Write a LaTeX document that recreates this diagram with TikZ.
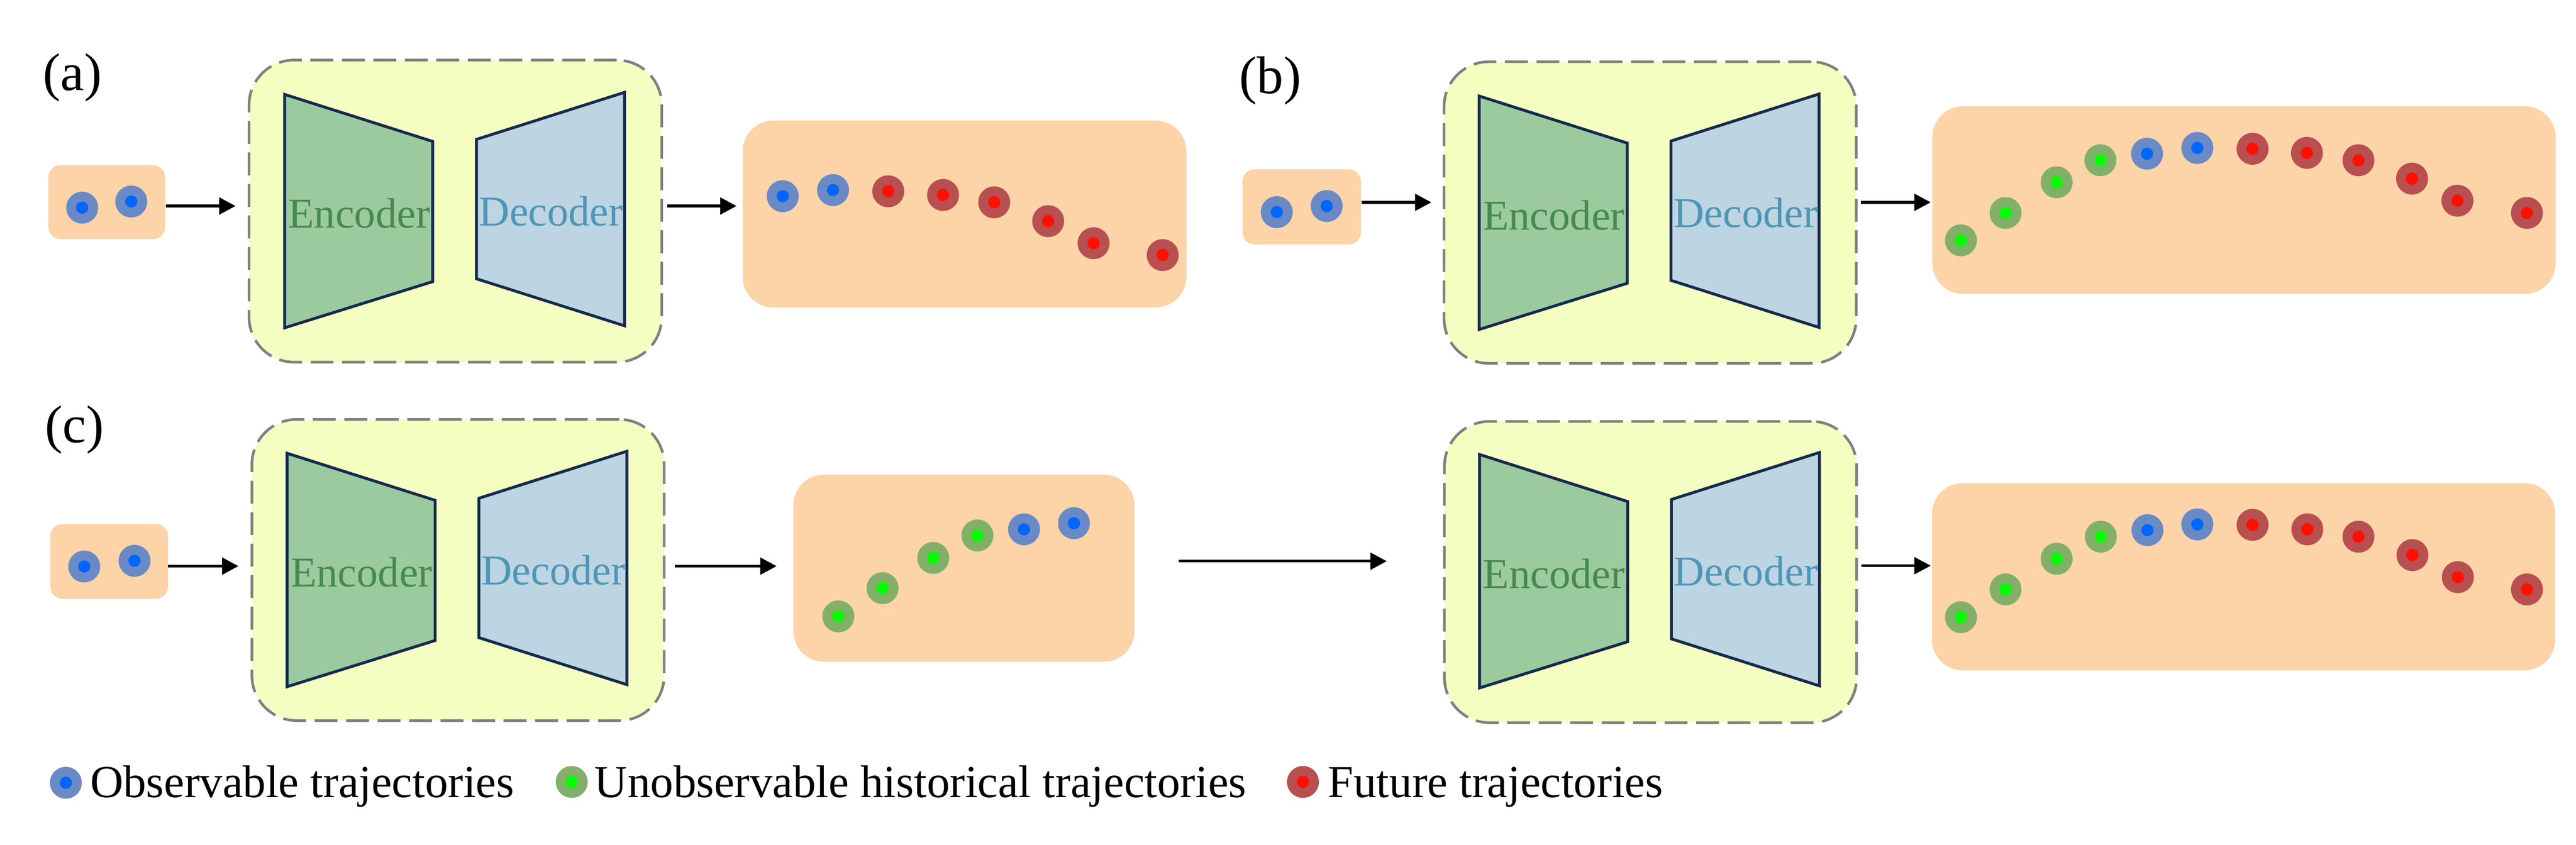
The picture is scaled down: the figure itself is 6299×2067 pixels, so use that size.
\documentclass[tikz,border=0pt]{standalone}
\usepackage{fontspec}
\setmainfont{Liberation Serif}
\usetikzlibrary{arrows.meta,fit}
\definecolor{peach}{HTML}{FDD3A8}
\definecolor{lemon}{HTML}{F4FEC0}
\definecolor{dashgray}{HTML}{808080}
\definecolor{encfill}{HTML}{9CCA9F}
\definecolor{decfill}{HTML}{BDD5E2}
\definecolor{navy}{HTML}{16294E}
\definecolor{enctext}{HTML}{468A50}
\definecolor{dectext}{HTML}{4F96B6}
\definecolor{ringB}{HTML}{6A8AC5}
\definecolor{coreB}{HTML}{0066FF}
\definecolor{ringG}{HTML}{82B06A}
\definecolor{coreG}{HTML}{00FF00}
\definecolor{ringR}{HTML}{B84F50}
\definecolor{coreR}{HTML}{FF1000}
\newcommand{\encdec}[3]{%
  \begin{scope}[shift={(#1,#2)}]
    \filldraw[trap, fill=encfill] (696,231) -- (1058,346) -- (1058,689) -- (696,802) -- cycle;
    \filldraw[trap, fill=decfill] (1165,341) -- (1527,226) -- (1527,797) -- (1165,682) -- cycle;
    \node[enclabel] (enc#3) at (878,558) {Encoder};
    \node[declabel] (dec#3) at (1347,552) {Decoder};
  \end{scope}}
\begin{document}
\begin{tikzpicture}[x=0.1mm,y=-0.1mm,
  inbox/.style={fill=peach, rounded corners=3mm, inner sep=0pt},
  outbox/.style={fill=peach, rounded corners=7.5mm, inner sep=0pt},
  modbox/.style={fill=lemon, draw=dashgray, line width=0.65mm, dash pattern=on 5.6mm off 2.1mm, rounded corners=11mm, inner sep=0pt},
  trap/.style={line width=0.7mm, draw=navy, line join=miter},
  enclabel/.style={anchor=base, inner sep=0pt, text=enctext, font=\fontsize{29.6}{30}\selectfont},
  declabel/.style={anchor=base, inner sep=0pt, text=dectext, font=\fontsize{29.6}{30}\selectfont},
  dotbase/.style={circle, inner sep=0pt, minimum size=7.8mm},
  dB/.style={dotbase, fill=ringB, path picture={\fill[coreB] (path picture bounding box.center) circle (1.5mm);}},
  dG/.style={dotbase, fill=ringG, path picture={\fill[coreG] (path picture bounding box.center) circle (1.5mm);}},
  dR/.style={dotbase, fill=ringR, path picture={\fill[coreR] (path picture bounding box.center) circle (1.5mm);}},
  arr/.style={line width=0.65mm, -{Triangle[length=4mm,width=4.1mm]}},
  panel/.style={inner sep=0pt, font=\fontsize{37}{40}\selectfont},
  legtext/.style={anchor=base west, inner sep=0pt, font=\fontsize{31.9}{34}\selectfont},
]
\useasboundingbox (0,0) rectangle (6299,2067);

% ---------------- (a) ----------------
\node[panel] (labA) at (177,190) {(a)};
\node[inbox, fit={(118,404) (404,585)}] (inA) {};
\node[dB] (ia1) at (201,508) {};
\node[dB] (ia2) at (321,493) {};
\node[modbox, fit={(609,147) (1618,886)}] (modA) {};
\encdec{0}{0}{A}
\node[outbox, fit={(1816,295) (2901,752)}] (outA) {};
\node[dB] (oa1) at (1914,480) {};
\node[dB] (oa2) at (2037,465) {};
\node[dR] (oa3) at (2172,468) {};
\node[dR] (oa4) at (2306,477) {};
\node[dR] (oa5) at (2431,495) {};
\node[dR] (oa6) at (2563,541) {};
\node[dR] (oa7) at (2674,595) {};
\node[dR] (oa8) at (2843,624) {};
\coordinate (a1s) at (406,504); \coordinate (a1e) at (576,504);
\coordinate (a2s) at (1631,504); \coordinate (a2e) at (1801,504);
\draw[arr] (a1s) -- (a1e);
\draw[arr] (a2s) -- (a2e);

% ---------------- (b) ----------------
\node[panel] (labB) at (3106,197) {(b)};
\node[inbox, fit={(3038,414) (3328,598)}] (inB) {};
\node[dB] (ib1) at (3122,519) {};
\node[dB] (ib2) at (3244,504) {};
\node[modbox, fit={(3531,151) (4539,889)}] (modB) {};
\encdec{2921}{4}{B}
\node[outbox, fit={(4725,260) (6249,719)}] (outB) {};
\node[dG] (ob1) at (4795,588) {};
\node[dG] (ob2) at (4904,521) {};
\node[dG] (ob3) at (5029,446) {};
\node[dG] (ob4) at (5136,392) {};
\node[dB] (ob5) at (5250,376) {};
\node[dB] (ob6) at (5373,362) {};
\node[dR] (ob7) at (5508,364) {};
\node[dR] (ob8) at (5641,374) {};
\node[dR] (ob9) at (5767,392) {};
\node[dR] (ob10) at (5898,437) {};
\node[dR] (ob11) at (6009,491) {};
\node[dR] (ob12) at (6179,521) {};
\coordinate (b1s) at (3330,495); \coordinate (b1e) at (3500,495);
\coordinate (b2s) at (4550,495); \coordinate (b2e) at (4721,495);
\draw[arr] (b1s) -- (b1e);
\draw[arr] (b2s) -- (b2e);

% ---------------- (c) ----------------
\node[panel] (labC) at (182,1051) {(c)};
\node[inbox, fit={(123,1282) (411,1465)}] (inC) {};
\node[dB] (ic1) at (206,1386) {};
\node[dB] (ic2) at (329,1372) {};
\node[modbox, fit={(616,1026) (1624,1763)}] (modC) {};
\encdec{6}{878}{C}
\node[outbox, fit={(1940,1161) (2774,1619)}] (midC) {};
\node[dG] (mc1) at (2050,1508) {};
\node[dG] (mc2) at (2158,1439) {};
\node[dG] (mc3) at (2282,1365) {};
\node[dG] (mc4) at (2390,1310) {};
\node[dB] (mc5) at (2504,1295) {};
\node[dB] (mc6) at (2626,1280) {};
\node[modbox, fit={(3532,1031) (4540,1768)}] (modD) {};
\encdec{2922}{881}{D}
\node[outbox, fit={(4724,1182) (6248,1640)}] (outC) {};
\node[dG] (oc1) at (4795,1510) {};
\node[dG] (oc2) at (4904,1442) {};
\node[dG] (oc3) at (5029,1367) {};
\node[dG] (oc4) at (5137,1313) {};
\node[dB] (oc5) at (5251,1297) {};
\node[dB] (oc6) at (5373,1283) {};
\node[dR] (oc7) at (5508,1284) {};
\node[dR] (oc8) at (5642,1295) {};
\node[dR] (oc9) at (5767,1313) {};
\node[dR] (oc10) at (5899,1358) {};
\node[dR] (oc11) at (6010,1412) {};
\node[dR] (oc12) at (6179,1442) {};
\coordinate (c1s) at (411,1385); \coordinate (c1e) at (583,1385);
\coordinate (c2s) at (1650,1385); \coordinate (c2e) at (1899,1385);
\coordinate (c3s) at (2883,1373); \coordinate (c3e) at (3391,1373);
\coordinate (c4s) at (4551,1384); \coordinate (c4e) at (4721,1384);
\draw[arr] (c1s) -- (c1e);
\draw[arr] (c2s) -- (c2e);
\draw[arr] (c3s) -- (c3e);
\draw[arr] (c4s) -- (c4e);

% ---------------- legend ----------------
\node[dB] (lg1) at (161,1915) {};
\node[legtext] (lt1) at (220,1951) {Observable trajectories};
\node[dG] (lg2) at (1398,1913) {};
\node[legtext] (lt2) at (1453,1951) {Unobservable historical trajectories};
\node[dR] (lg3) at (3186,1913) {};
\node[legtext] (lt3) at (3247,1951) {Future trajectories};
\end{tikzpicture}
\end{document}
